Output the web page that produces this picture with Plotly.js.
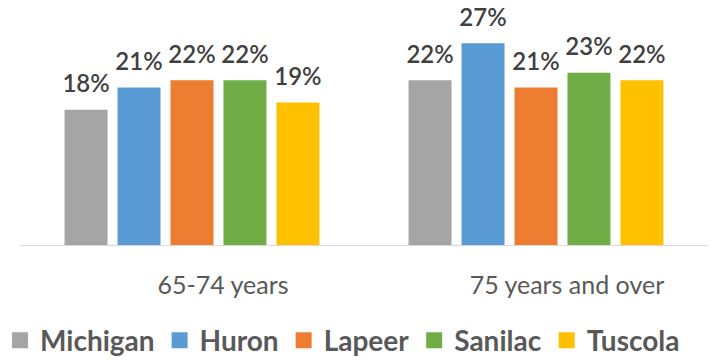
<!DOCTYPE html>
<html>
<head>
<meta charset="utf-8">
<script src="https://cdn.plot.ly/plotly-3.0.1.min.js"></script>
<style>html,body{margin:0;padding:0;background:#fff;}#chart{width:723px;height:360px;}</style>
</head>
<body>
<div id="chart"></div>
<script>
const categories = ["65-74 years", "75 years and over"];
const seriesNames = ["Michigan", "Huron", "Lapeer", "Sanilac", "Tuscola"];
const michigan = [18, 22];
const huron = [21, 27];
const lapeer = [22, 21];
const sanilac = [22, 23];
const tuscola = [19, 22];
const seriesValues = [michigan, huron, lapeer, sanilac, tuscola];
const colors = ["#A5A5A5", "#5B9BD5", "#ED7D31", "#70AD47", "#FFC000"];

const FONT = "Lato, 'Open Sans', sans-serif";
const GAP = 0.23;

const bars = seriesNames.map((name, i) => ({
  type: "bar",
  name: name,
  x: categories,
  y: seriesValues[i],
  marker: {color: colors[i], line: {color: colors[i], width: 4}},
  hoverinfo: "none"
}));

const labels = seriesNames.map((name, i) => ({
  type: "scatter",
  mode: "markers+text",
  name: name + " labels",
  showlegend: false,
  x: categories,
  y: seriesValues[i],
  text: seriesValues[i].map(v => v + "%"),
  textposition: "top center",
  cliponaxis: false,
  textfont: {family: FONT, size: 24, color: "#404040", weight: 600},
  marker: {size: 20, opacity: 0, color: colors[i]},
  hoverinfo: "none"
}));

const layout = {
  width: 723, height: 360,
  margin: {l: 20, r: 15, t: 23, b: 115, autoexpand: false},
  paper_bgcolor: "#fff", plot_bgcolor: "#fff",
  barmode: "group",
  bargap: GAP,
  bargroupgap: 0.264,
  scattermode: "group",
  scattergap: GAP,
  font: {family: FONT, color: "#404040"},
  xaxis: {
    type: "category",
    showline: true, linecolor: "#d9d9d9", linewidth: 1,
    ticks: "", tickfont: {size: 25, color: "#595959"},
    tickmode: "array", tickvals: [0.09, 1.09], ticktext: categories,
    ticklabelstandoff: 18,
    automargin: false,
    range: [-0.5, 1.5]
  },
  yaxis: {visible: false, range: [0, 30], showgrid: false, zeroline: false, automargin: false},
  showlegend: true,
  legend: {
    orientation: "h", x: -0.029, xanchor: "left", y: -0.43, yanchor: "middle",
    font: {size: 28, color: "#595959", weight: 700},
    itemwidth: 30, traceorder: "normal"
  }
};

Plotly.newPlot("chart", bars.concat(labels), layout, {displayModeBar: false, staticPlot: true});
</script>
</body>
</html>
